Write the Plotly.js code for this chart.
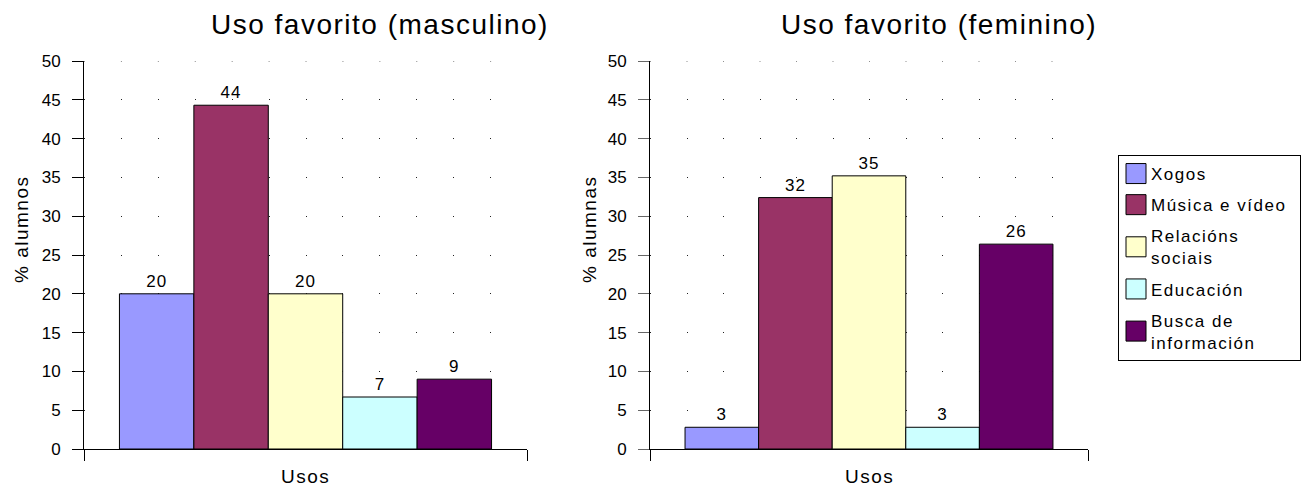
<!DOCTYPE html>
<html>
<head>
<meta charset="utf-8">
<script src="https://cdn.plot.ly/plotly-3.0.1.min.js"></script>
<style>
html,body{margin:0;padding:0;background:#fff;}
#chart{width:1304px;height:491px;}
.legendtext{letter-spacing:1.5px;}
.annotation-text{letter-spacing:1.5px;}
.bartext{letter-spacing:1px;}
</style>
</head>
<body>
<div id="chart"></div>
<script>
const categories = ["Xogos", "Música e vídeo", "Relacións<br>sociais", "Educación", "Busca de<br>información"];
const colors = ["#9999FF", "#993366", "#FFFFCC", "#CCFFFF", "#660066"];
const masculino = [20, 44.3, 20, 6.7, 9];
const feminino = [2.8, 32.4, 35.2, 2.8, 26.4];
const xLabel = "Usos";
const titles = ["Uso favorito (masculino)", "Uso favorito (feminino)"];
const yTitles = ["% alumnos", "% alumnas"];
const yMax = 50;

const FONT = "'Liberation Sans', Arial, sans-serif";
const traces = [];
function addSeries(vals, xa, ya, legend) {
  categories.forEach((c, i) => {
    traces.push({
      type: "bar", x: [0], y: [vals[i]], name: c, legendgroup: c, showlegend: legend,
      marker: {color: colors[i], line: {color: "#000", width: 1}},
      text: [String(Math.round(vals[i]))], textposition: "outside",
      textfont: {family: FONT, size: 17, color: "#000"}, cliponaxis: false,
      constraintext: "none", xaxis: xa, yaxis: ya, hoverinfo: "skip"
    });
  });
}
addSeries(masculino, "x", "y", true);
addSeries(feminino, "x2", "y2", false);

const W = 1304, H = 491;
const yDom = [(H - 449) / H, (H - 61) / H];
function xax(dom, anchor) {
  return {
    domain: dom, anchor: anchor, range: [-0.5, 0.5], tickmode: "array", tickvals: [-0.5, 0.5],
    ticks: "outside", ticklen: 11, tickcolor: "#000", tickwidth: 1, showticklabels: false,
    showgrid: false, zeroline: false, showline: true, linecolor: "#000", linewidth: 1,
    fixedrange: true, automargin: false
  };
}
function yax(anchor, dash, tcol) {
  return {
    domain: yDom, anchor: anchor, range: [0, yMax], dtick: 5, tick0: 0,
    ticks: "outside", ticklen: 11, tickcolor: tcol, tickwidth: 1,
    tickfont: {family: FONT, size: 17, color: "#000"}, ticklabelstandoff: 8,
    showgrid: true, gridcolor: "#222", gridwidth: 1, griddash: dash,
    showline: true, linecolor: "#000", linewidth: 1, zeroline: false,
    fixedrange: true, automargin: false
  };
}
const d1 = [84 / W, 527 / W], d2 = [650 / W, 1088 / W];
const dash1 = "1px," + ((527 - 84) / 12 - 1).toFixed(2) + "px";
const dash2 = "1px," + ((1088 - 650) / 12 - 1).toFixed(2) + "px";

const ann = [];
const tx = [380, 939];
const axc = [(84 + 527) / 2, (650 + 1088) / 2];
const ytx = [22, 590];
for (let k = 0; k < 2; k++) {
  ann.push({text: titles[k], x: tx[k] / W, y: 1 - 24 / H, xref: "paper", yref: "paper",
    xanchor: "center", yanchor: "middle", showarrow: false,
    font: {family: FONT, size: 28, color: "#000"}});
  ann.push({text: xLabel, x: axc[k] / W, y: 1 - 476 / H, xref: "paper", yref: "paper",
    xanchor: "center", yanchor: "middle", showarrow: false,
    font: {family: FONT, size: 19, color: "#000"}});
  ann.push({text: yTitles[k], x: ytx[k] / W, y: 1 - 229 / H, xref: "paper", yref: "paper",
    xanchor: "center", yanchor: "middle", showarrow: false, textangle: -90,
    font: {family: FONT, size: 19, color: "#000"}});
}

// top gridline (edge gridline is not drawn by Plotly)
const shapes = [
  {type: "line", xref: "x domain", yref: "y", x0: 0, x1: 1, y0: yMax, y1: yMax,
   line: {color: "#222", width: 1, dash: dash1}, layer: "below"},
  {type: "line", xref: "x2 domain", yref: "y2", x0: 0, x1: 1, y0: yMax, y1: yMax,
   line: {color: "#222", width: 1, dash: dash2}, layer: "below"}
];

const layout = {
  width: W, height: H, margin: {l: 0, r: 0, t: 0, b: 0},
  paper_bgcolor: "#fff", plot_bgcolor: "rgba(0,0,0,0)",
  barmode: "group", bargap: 0.16, bargroupgap: 0,
  showlegend: true,
  legend: {x: 1118 / W, y: 1 - 155 / H, xanchor: "left", yanchor: "top",
    bordercolor: "#000", borderwidth: 1, bgcolor: "#fff",
    font: {family: FONT, size: 17, color: "#000"}, tracegroupgap: 6,
    itemwidth: 30, traceorder: "grouped"},
  xaxis: xax(d1, "y"), yaxis: yax("x", dash1, "#000"),
  xaxis2: xax(d2, "y2"), yaxis2: yax("x2", dash2, "#666"),
  annotations: ann, shapes: shapes
};

Plotly.newPlot("chart", traces, layout, {staticPlot: true, displayModeBar: false}).then(gd => {
  gd.querySelectorAll(".legend .legendpoints path").forEach(p => {
    p.setAttribute("d", "M10,10H-10V-10H10Z");
  });
  gd.querySelectorAll(".legend .legendpoints").forEach(g => {
    const t = g.getAttribute("transform") || "";
    g.setAttribute("transform", t + " translate(-3,0)");
  });
  gd.querySelectorAll(".legend .legendtext").forEach(el => {
    const t = el.getAttribute("transform") || "";
    el.setAttribute("transform", t + " translate(-8,0)");
  });
});
</script>
</body>
</html>
